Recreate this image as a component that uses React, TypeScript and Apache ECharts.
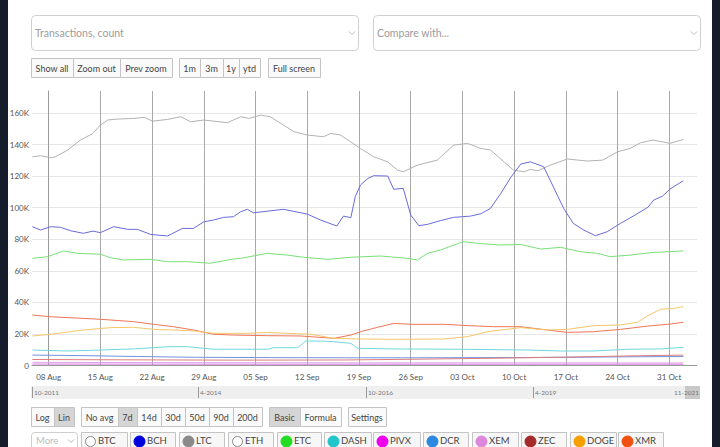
import React, { useEffect, useRef } from 'react';
import * as echarts from 'echarts';

// x values: days since 08 Aug 2021; y values: thousands of transactions
const weekLabels = ['08 Aug', '15 Aug', '22 Aug', '29 Aug', '05 Sep', '12 Sep', '19 Sep', '26 Sep', '03 Oct', '10 Oct', '17 Oct', '24 Oct', '31 Oct'];
const navLabels = ['10-2011', '4-2014', '10-2016', '4-2019', '11-2021'];
const coinNames = ['BTC', 'BCH', 'LTC', 'ETH', 'ETC', 'DASH', 'PIVX', 'DCR', 'XEM', 'ZEC', 'DOGE', 'XMR'];

const ltc = [
  [-2.2, 132.3], [-1.1, 133.0], [0.3, 131.7], [0.9, 132.3], [2.6, 136.6], [4.3, 142.9], [6.0, 147.1], [7.0, 152.4],
  [8.0, 155.6], [9.3, 156.2], [11.5, 156.6], [12.9, 157.3], [14.1, 154.9], [16.1, 156.0], [17.9, 157.7], [19.2, 154.5],
  [21.0, 155.6], [24.2, 153.9], [26.0, 157.7], [27.1, 156.6], [28.7, 158.7], [30.0, 157.7], [33.2, 148.2], [35.0, 146.1],
  [37.2, 145.0], [38.2, 147.1], [39.5, 146.1], [42.2, 137.6], [44.0, 132.3], [45.9, 129.1], [47.2, 123.9], [48.0, 122.8],
  [49.9, 127.0], [52.6, 130.2], [54.8, 139.7], [56.7, 140.8], [58.5, 137.6], [59.8, 136.6], [62.9, 123.9], [64.3, 122.8],
  [65.2, 124.3], [66.2, 123.4], [67.9, 127.0], [70.2, 130.9], [72.9, 129.6], [75.0, 130.2], [77.0, 135.5], [78.7, 137.6],
  [80.1, 141.2], [81.8, 142.9], [84.1, 140.8], [85.9, 143.3],
];
const bch = [
  [-2.2, 88.0], [-1.1, 85.9], [0.3, 88.0], [1.6, 87.6], [3.0, 85.4], [4.7, 83.8], [6.0, 85.2], [7.0, 84.2],
  [8.8, 88.0], [10.7, 86.3], [12.0, 86.3], [13.8, 83.1], [16.1, 82.1], [18.1, 86.9], [19.6, 86.9], [21.0, 91.1],
  [22.3, 92.2], [23.7, 93.9], [25.0, 94.3], [26.0, 97.5], [26.9, 99.0], [27.7, 96.8], [31.8, 99.0], [35.0, 96.0],
  [36.8, 92.2], [39.0, 88.4], [39.9, 94.7], [40.9, 93.7], [41.5, 107.0], [42.2, 114.4], [43.2, 118.6], [44.0, 120.3],
  [45.9, 120.1], [46.7, 111.7], [48.0, 112.3], [49.0, 95.4], [50.1, 88.6], [51.3, 89.5], [53.0, 91.8], [54.8, 93.9],
  [57.1, 94.7], [58.5, 96.2], [59.8, 99.6], [61.2, 109.1], [62.6, 119.6], [63.9, 127.7], [65.2, 129.1], [67.0, 126.0],
  [68.3, 113.3], [69.7, 99.6], [71.0, 90.1], [72.4, 85.9], [74.0, 82.3], [75.6, 84.8], [77.4, 90.1], [79.2, 94.9],
  [81.1, 100.3], [81.9, 104.9], [83.1, 107.4], [84.1, 111.9], [85.9, 117.1],
];
const etc = [
  [-2.2, 67.9], [-0.1, 69.0], [2.0, 72.6], [3.9, 71.1], [7.0, 70.5], [8.4, 68.3], [10.1, 66.9], [13.8, 67.3],
  [16.1, 65.8], [18.8, 65.8], [21.9, 64.8], [25.0, 67.5], [26.0, 67.9], [29.6, 71.1], [32.3, 70.0], [34.5, 68.6],
  [37.8, 67.3], [40.9, 68.6], [44.9, 69.4], [48.6, 67.9], [49.9, 66.9], [51.3, 71.1], [53.0, 73.2], [56.1, 78.5],
  [58.5, 77.2], [61.2, 76.4], [63.9, 76.7], [66.6, 73.8], [69.3, 74.9], [72.0, 72.1], [74.3, 71.1], [76.0, 69.0],
  [78.7, 70.0], [81.9, 71.7], [85.9, 72.6],
];
const xmr = [
  [-2.2, 32.0], [0.3, 30.9], [7.0, 29.3], [11.5, 27.8], [14.2, 26.1], [16.9, 24.6], [19.6, 22.5], [22.3, 19.8],
  [25.0, 19.3], [29.6, 18.9], [34.1, 18.7], [38.6, 17.2], [40.9, 19.3], [42.2, 21.4], [44.5, 24.2], [46.7, 26.7],
  [49.0, 26.1], [53.5, 26.1], [57.1, 25.2], [60.2, 24.6], [63.9, 24.6], [67.5, 22.5], [70.2, 21.0], [73.7, 21.4],
  [77.4, 22.9], [81.1, 25.0], [83.8, 26.1], [85.9, 27.4],
];
const doge = [
  [-2.2, 18.7], [0.3, 19.8], [4.7, 22.5], [8.4, 24.0], [11.5, 24.2], [14.2, 22.9], [16.9, 22.5], [19.6, 21.9],
  [22.3, 20.4], [26.9, 20.4], [29.6, 21.0], [32.3, 20.4], [35.5, 19.8], [38.6, 17.2], [42.2, 16.8], [46.7, 16.6],
  [53.5, 16.8], [56.7, 18.3], [59.4, 21.4], [61.2, 22.5], [63.9, 24.0], [67.5, 22.5], [70.2, 22.9], [73.7, 25.2],
  [77.4, 25.7], [79.7, 27.4], [81.1, 31.6], [82.8, 35.6], [84.6, 36.2], [85.9, 37.3],
];
const dash = [
  [-2.2, 9.8], [2.6, 9.2], [7.0, 9.8], [11.5, 10.5], [16.1, 11.9], [18.8, 11.9], [22.3, 10.3], [29.6, 10.3],
  [30.4, 11.3], [33.7, 11.3], [34.8, 15.5], [36.8, 15.5], [38.6, 15.1], [40.9, 14.1], [41.8, 10.9], [46.7, 10.5],
  [55.8, 10.3], [64.8, 9.8], [69.3, 9.2], [73.7, 9.2], [78.3, 10.3], [82.8, 10.5], [85.9, 11.5],
];
const dcr = [[-2.2, 6.6], [4, 6.3], [12, 5.7], [20, 5.2], [30, 5.0], [40, 4.9], [50, 4.9], [60, 5.0], [70, 5.2], [78, 5.5], [85.9, 5.7]];
const zec = [[-2.2, 3.8], [10, 3.6], [25, 3.4], [40, 3.5], [50, 4.0], [60, 4.6], [70, 5.3], [80, 6.2], [85.9, 6.6]];
const xem = [[-2.2, 2.0], [20, 1.8], [40, 1.7], [60, 1.7], [85.9, 1.6]];
const pivx = [[-2.2, 0.9], [30, 0.8], [60, 0.8], [85.9, 0.8]];

const seriesDefs: [string, number[][], string][] = [
  ['LTC', ltc, '#b2b2b2'],
  ['BCH', bch, '#6a6adc'],
  ['ETC', etc, '#78e078'],
  ['XMR', xmr, '#f07656'],
  ['DOGE', doge, '#f7c66a'],
  ['DASH', dash, '#6fd8de'],
  ['DCR', dcr, '#7094e0'],
  ['ZEC', zec, '#e07c7c'],
  ['XEM', xem, '#dea2e2'],
  ['PIVX', pivx, '#d67ae2'],
];

const legendDots: Record<string, string | null> = {
  BTC: null, BCH: '#0000dd', LTC: '#8a8a8a', ETH: null, ETC: '#22dd22', DASH: '#20c6cc',
  PIVX: '#ee00ee', DCR: '#2a88e0', XEM: '#dd88dd', ZEC: '#a52a2a', DOGE: '#f5a000', XMR: '#f05010',
};

const FONT = 'Lato';

function buildGraphic() {
  const G: any[] = [];
  const txt = (text: string, x: number, y: number, size: number, fill: string, align = 'left') => ({
    type: 'text', z: 101,
    style: { text, x, y, fill, font: `${size}px ${FONT}`, textAlign: align, textVerticalAlign: 'middle', align, verticalAlign: 'middle' },
  });
  const chevron = (x: number, y: number) => ({
    type: 'polyline', z: 101,
    shape: { points: [[x - 3, y - 1.5], [x, y + 1.5], [x + 3, y - 1.5]] },
    style: { stroke: '#bbb', lineWidth: 1, fill: 'none' },
  });
  const button = (label: string, x0: number, x1: number, y: number, h: number, active: boolean, size = 9) => {
    G.push({ type: 'rect', z: 100, shape: { x: x0 + 0.5, y: y + 0.5, width: x1 - x0, height: h }, style: { fill: active ? '#d5d5d5' : '#fafafa', stroke: '#c4c4c4', lineWidth: 1 } });
    G.push(txt(label, (x0 + x1) / 2, y + h / 2 + 1, size, '#454545', 'center'));
  };

  // top selects
  G.push({ type: 'rect', z: 100, shape: { x: 31.5, y: 15.5, width: 327, height: 35, r: 4 }, style: { fill: '#fff', stroke: '#cfcfcf', lineWidth: 1 } });
  G.push(txt('Transactions, count', 35, 33, 10.5, '#9c9c9c'));
  G.push(chevron(352, 33));
  G.push({ type: 'rect', z: 100, shape: { x: 373.5, y: 15.5, width: 327, height: 35, r: 4 }, style: { fill: '#fff', stroke: '#cfcfcf', lineWidth: 1 } });
  G.push(txt('Compare with...', 377, 33, 10.5, '#9c9c9c'));
  G.push(chevron(694, 33));

  // row 1
  const row1: [string, number, number, boolean][] = [
    ['Show all', 31, 73, false], ['Zoom out', 73, 120, false], ['Prev zoom', 120, 172, false],
    ['1m', 179, 200, false], ['3m', 200, 223, false], ['1y', 223, 239, false], ['ytd', 239, 260, false],
    ['Full screen', 268, 320, false],
  ];
  row1.forEach(([l, a, b, act]) => button(l, a, b, 58, 19, act));

  // navigator
  G.push({ type: 'rect', z: 100, shape: { x: 31, y: 386, width: 669, height: 13 }, style: { fill: '#efefef' } });
  G.push({ type: 'rect', z: 100, shape: { x: 685, y: 386, width: 15, height: 13 }, style: { fill: '#c9c9c9' } });
  const navX = [32, 198, 366, 533];
  navX.forEach((x, i) => {
    G.push({ type: 'line', z: 101, shape: { x1: x + 0.5, y1: 387, x2: x + 0.5, y2: 398 }, style: { stroke: '#999', lineWidth: 1 } });
    G.push(txt(navLabels[i], x + 2, 392.5, 6.5, '#777'));
  });
  G.push(txt(navLabels[4], 699, 392.5, 6.5, '#777', 'right'));

  // row 2
  const row2: [string, number, number, boolean][] = [
    ['Log', 31, 54, false], ['Lin', 54, 74, true],
    ['No avg', 81, 118, false], ['7d', 118, 137, true], ['14d', 137, 161, false], ['30d', 161, 185, false],
    ['50d', 185, 209, false], ['90d', 209, 233, false], ['200d', 233, 262, false],
    ['Basic', 269, 300, true], ['Formula', 300, 341, false], ['Settings', 348, 386, false],
  ];
  row2.forEach(([l, a, b, act]) => button(l, a, b, 407, 19, act));

  // row 3
  G.push({ type: 'rect', z: 100, shape: { x: 31.5, y: 432.5, width: 46, height: 22, r: 3 }, style: { fill: '#fff', stroke: '#cfcfcf', lineWidth: 1 } });
  G.push(txt('More', 36, 440.5, 9.5, '#bdbdbd'));
  G.push(chevron(71, 441));
  const legX: [number, number][] = [
    [81, 127], [130, 175], [179, 224], [228, 273], [277, 321], [324, 371],
    [373, 420], [423, 468], [472, 518], [521, 566], [570, 616], [618, 663],
  ];
  coinNames.forEach((name, i) => {
    const [a, b] = legX[i];
    G.push({ type: 'rect', z: 100, shape: { x: a + 0.5, y: 432.5, width: b - a, height: 22 }, style: { fill: '#f7f7f7', stroke: '#c4c4c4', lineWidth: 1 } });
    const dot = legendDots[name];
    G.push({ type: 'circle', z: 101, shape: { cx: a + 9.5, cy: 441.5, r: dot ? 5.5 : 5 }, style: { fill: dot || '#fff', stroke: dot || '#888', lineWidth: 1 } });
    G.push(txt(name, a + 17, 440.5, 9.5, '#454545'));
  });

  // dark page edges
  G.push({ type: 'rect', z: 120, shape: { x: 0, y: 0, width: 8, height: 447 }, style: { fill: '#151c2b' } });
  G.push({ type: 'rect', z: 120, shape: { x: 712, y: 0, width: 8, height: 447 }, style: { fill: '#151c2b' } });
  return G;
}

export default function App() {
  const ref = useRef<HTMLDivElement>(null);
  useEffect(() => {
    if (!ref.current) return;
    const chart = echarts.init(ref.current, null, { renderer: 'svg' });
    // category slots every 6 hours, from 2.25 days before 08 Aug
    const slots: string[] = [];
    const labelIdx = new Set<number>();
    for (let i = 0; i <= 360; i++) {
      const t = -2.25 + i * 0.25;
      if (t >= 0 && t % 7 === 0 && weekLabels[t / 7]) {
        slots.push(weekLabels[t / 7]);
        labelIdx.add(i);
      } else {
        slots.push('s' + i);
      }
    }
    const showIdx = (idx: number) => labelIdx.has(idx);
    const gridColors = Array.from({ length: 9 }, () => '#e7e7e7').concat(['rgba(0,0,0,0)']);

    chart.setOption({
      animation: false,
      backgroundColor: '#ffffff',
      textStyle: { fontFamily: FONT },
      grid: { left: 32, top: 91, right: 23, bottom: 81.5 },
      xAxis: [
        {
          type: 'category', data: slots, boundaryGap: false,
          axisLine: { show: true, lineStyle: { color: '#9a9a9a' } },
          axisTick: { show: false },
          axisLabel: { interval: showIdx, color: '#555', fontSize: 8, margin: 7, fontFamily: FONT },
          splitLine: { show: true, interval: showIdx, lineStyle: { color: '#a9a9a9', width: 1 } },
        },
        { type: 'value', min: -2.25, max: 87.75, show: false },
      ],
      yAxis: {
        type: 'value', min: 0, max: 174, interval: 20,
        axisLine: { show: true, lineStyle: { color: '#9a9a9a' } },
        axisTick: { show: false },
        axisLabel: {
          showMaxLabel: false, color: '#555', fontSize: 8, margin: 3, fontFamily: FONT, padding: [9, 0, 0, 0],
          formatter: (v: number) => (v === 0 ? '0' : v % 20 === 0 ? `${v}K` : ''),
        },
        splitLine: { show: true, lineStyle: { color: gridColors, width: 1 } },
      },
      series: seriesDefs.map(([name, data, color]) => ({
        name, type: 'line', xAxisIndex: 1, symbol: 'none', showSymbol: false,
        lineStyle: { width: 1, color }, itemStyle: { color },
        data,
      })),
      graphic: buildGraphic(),
    });
    return () => chart.dispose();
  }, []);
  return <div ref={ref} style={{ position: 'fixed', left: 0, top: 0, width: 720, height: 447 }} />;
}
